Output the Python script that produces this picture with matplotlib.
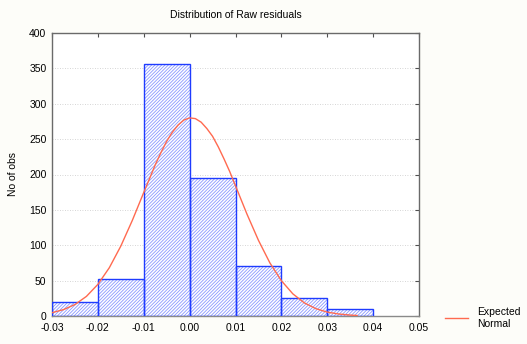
import matplotlib
matplotlib.use("Agg")
import matplotlib.pyplot as plt
from matplotlib.lines import Line2D

plt.rcParams['font.family'] = ['Liberation Sans', 'DejaVu Sans']

# Histogram data
bin_edges = [-0.03, -0.02, -0.01, 0.00, 0.01, 0.02, 0.03, 0.04]
counts = [20, 52, 356, 195, 70, 26, 10]

# Expected normal curve
curve_x = [-0.030, -0.0275, -0.025, -0.0225, -0.020, -0.0175, -0.015, -0.0125,
           -0.010, -0.00875, -0.0075, -0.00625, -0.005, -0.00375, -0.0025, -0.00125,
           0.000, 0.00125, 0.0025, 0.00375, 0.005, 0.00625, 0.0075, 0.00875,
           0.010, 0.0125, 0.015, 0.0175, 0.020, 0.0225, 0.025, 0.0275,
           0.030, 0.0325, 0.035, 0.0365]
curve_y = [4.7, 9.0, 16.2, 27.7, 44.7, 68.3, 98.8, 135,
           174.6, 194, 213.6, 231, 247, 260, 270, 277,
           280, 279, 274, 265, 254, 239, 222, 204,
           184, 144, 107, 75, 49.9, 31.3, 18.6, 10.4,
           5.5, 2.8, 1.3, 0.7]

xticks = [-0.03, -0.02, -0.01, 0.00, 0.01, 0.02, 0.03, 0.04, 0.05]
xtick_labels = ["-0.03", "-0.02", "-0.01", "0.00", "0.01", "0.02", "0.03", "0.04", "0.05"]
yticks = [0, 50, 100, 150, 200, 250, 300, 350, 400]

plt.rcParams['hatch.linewidth'] = 0.6

fig = plt.figure(figsize=(5.27, 3.44), dpi=100, facecolor='#fdfdf9')
ax = fig.add_axes([52/527, 1-316/344, (419-52)/527, (316-33)/344])
ax.set_facecolor('white')

lefts = bin_edges[:-1]
widths = [bin_edges[i+1] - bin_edges[i] for i in range(len(counts))]

ax.bar(lefts, counts, width=widths, align='edge', facecolor='white',
       edgecolor='#8a98ff', hatch='//////////', linewidth=0, zorder=2)
ax.bar(lefts, counts, width=widths, align='edge', fill=False,
       edgecolor='#1f3cff', linewidth=1.0, zorder=3)

ax.plot(curve_x, curve_y, color='#ff6a50', linewidth=1.0, zorder=4)

ax.set_xlim(-0.03, 0.05)
ax.set_ylim(0, 400)
ax.set_xticks(xticks)
ax.set_xticklabels(xtick_labels)
ax.set_yticks(yticks)

ax.yaxis.grid(True, linestyle=(0, (1, 2)), color='#c8c8c8', linewidth=0.6, zorder=0)
ax.set_axisbelow(True)

ax.tick_params(axis='both', which='both', direction='in', length=3,
               labelsize=7.5, colors='#505050', labelcolor='black',
               top=True, right=True, bottom=False, left=False)
ax.tick_params(axis='x', pad=5)
ax.tick_params(axis='y', pad=4)

for name, sp in ax.spines.items():
    sp.set_color('#6a6a6a')
    sp.set_linewidth(1.0)
ax.spines['bottom'].set_color('#8a8a8a')

ax.set_title('Distribution of Raw residuals', fontsize=7.5, pad=11)
ax.set_ylabel('No of obs', fontsize=7.5, labelpad=8)

handle = Line2D([0], [0], color='#ff6a50', linewidth=1.0)
fig.legend([handle], ['Expected\nNormal'], loc='center left',
           bbox_to_anchor=(436/527, 1-318/344), frameon=False, fontsize=7.5,
           handlelength=2.2, handletextpad=0.8)

fig.savefig('out.png', dpi=100, facecolor=fig.get_facecolor())
